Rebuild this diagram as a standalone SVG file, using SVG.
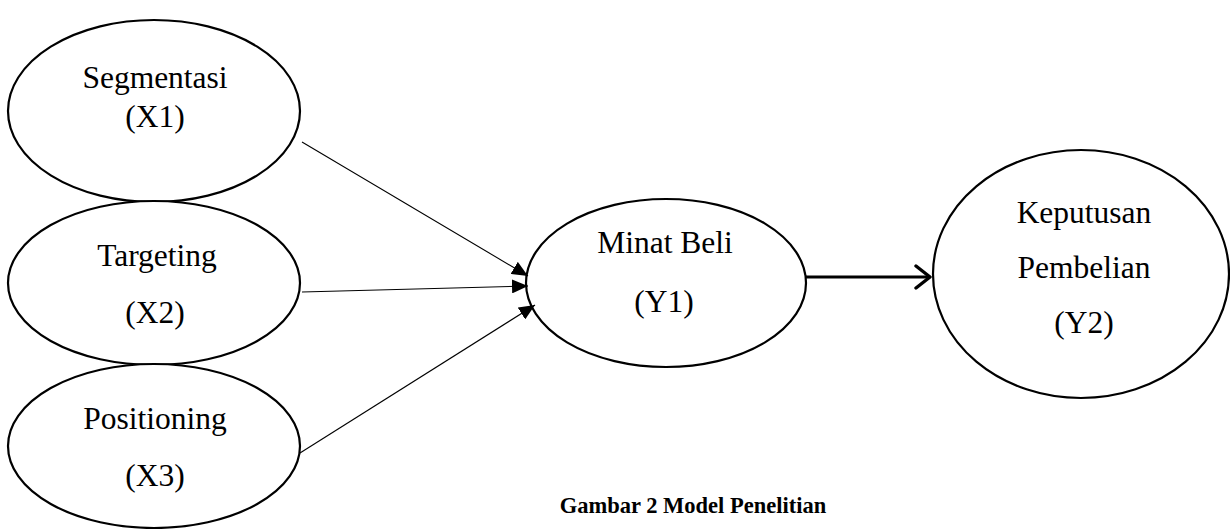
<svg xmlns="http://www.w3.org/2000/svg" width="1230" height="529" viewBox="0 0 1230 529">
<style>
.node ellipse{fill:#fff;stroke:#000;stroke-width:2.2}
.lbl{font-family:"Liberation Serif","Times New Roman",serif;font-size:31.5px;fill:#000;text-anchor:middle}
.cap{font-family:"Liberation Serif","Times New Roman",serif;font-size:22.5px;font-weight:bold;fill:#000;text-anchor:middle}
.thin{stroke:#000;stroke-width:1.1;fill:none}
.thick{stroke:#000;stroke-width:3.2;fill:none}
</style>
<defs>
<marker id="tri" markerUnits="userSpaceOnUse" markerWidth="18" markerHeight="14" refX="16" refY="7" orient="auto">
<path d="M0,0 L16,7 L0,14 Z" fill="#000"/>
</marker>
<marker id="open" markerUnits="userSpaceOnUse" markerWidth="20" markerHeight="26" refX="17" refY="13" orient="auto">
<path d="M3,2 L17,13 L3,24" fill="none" stroke="#000" stroke-width="3.4" stroke-linecap="round" stroke-linejoin="round"/>
</marker>
</defs>
<g id="X1" class="node">
<ellipse cx="154" cy="111" rx="146" ry="91"/>
<text class="lbl" x="155" y="88">Segmentasi</text>
<text class="lbl" x="155" y="127">(X1)</text>
</g>
<g id="X2" class="node">
<ellipse cx="154" cy="283" rx="146" ry="82"/>
<text class="lbl" x="157" y="266">Targeting</text>
<text class="lbl" x="155" y="323">(X2)</text>
</g>
<g id="X3" class="node">
<ellipse cx="154" cy="446" rx="146" ry="82"/>
<text class="lbl" x="155" y="429">Positioning</text>
<text class="lbl" x="155" y="486">(X3)</text>
</g>
<g id="Y1" class="node">
<ellipse cx="666" cy="283" rx="140" ry="84"/>
<text class="lbl" x="665" y="253">Minat Beli</text>
<text class="lbl" x="664" y="312">(Y1)</text>
</g>
<g id="Y2" class="node">
<ellipse cx="1081" cy="274" rx="148" ry="124"/>
<text class="lbl" x="1084" y="223">Keputusan</text>
<text class="lbl" x="1084" y="278">Pembelian</text>
<text class="lbl" x="1084" y="333">(Y2)</text>
</g>
<g id="connectors">
<line class="thin" x1="302" y1="142" x2="528" y2="276" marker-end="url(#tri)"/>
<line class="thin" x1="302" y1="292" x2="528" y2="286" marker-end="url(#tri)"/>
<line class="thin" x1="300" y1="453" x2="535" y2="305" marker-end="url(#tri)"/>
<line class="thick" x1="806" y1="277" x2="930" y2="277" marker-end="url(#open)"/>
</g>
<text class="cap" x="693" y="513">Gambar 2 Model Penelitian</text>
</svg>
